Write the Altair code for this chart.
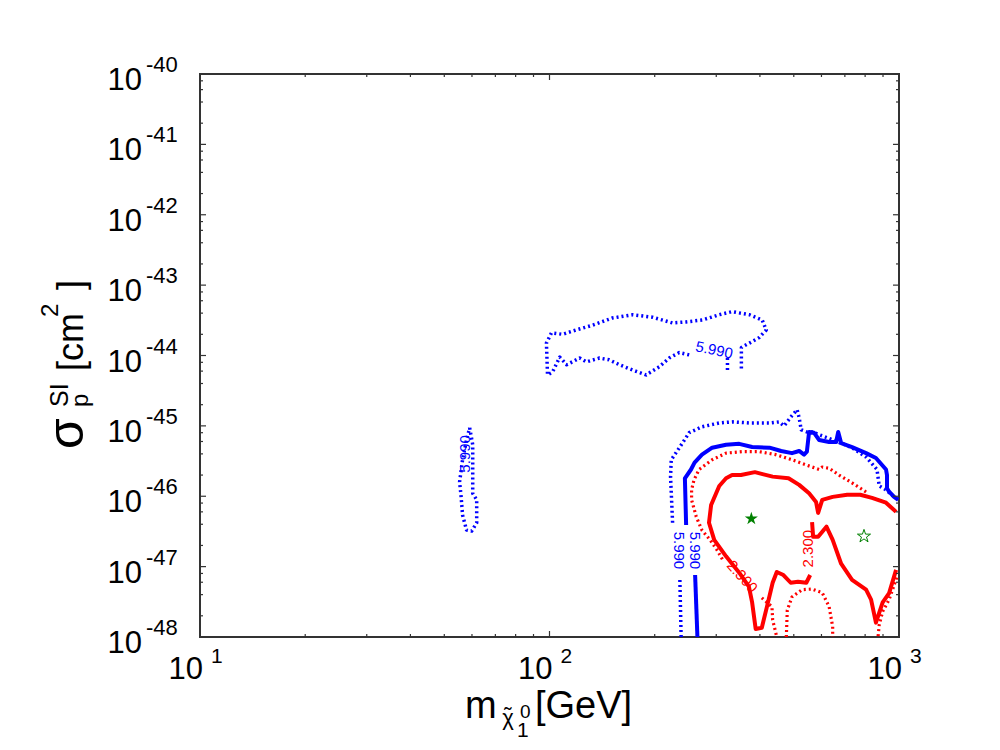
import altair as alt
import pandas as pd

FONT = "Liberation Sans"
BLUE = "#0000ff"
RED = "#ff0000"
GREEN = "#008000"
FRAME = "#333333"

# ---------------- data (mass in GeV, cross-section in cm^2) ----------------
# blue solid contour (5.990), split by its inline label
blue_solid_a_x = [265, 261]
blue_solid_a_y = [1.0e-48, 7.6e-48]
blue_solid_b_x = [246, 244, 254, 260, 273, 292, 320, 349, 380, 426, 460, 494, 518, 535, 545, 553,
                  571, 591, 631, 661, 670, 683, 734, 805, 859, 918, 924, 924, 937, 968, 995]
blue_solid_b_y = [3.9e-47, 1.8e-46, 2.4e-46, 3.0e-46, 3.9e-46, 4.9e-46, 5.4e-46, 5.55e-46, 5.0e-46,
                  4.9e-46, 4.4e-46, 4.1e-46, 4.4e-46, 3.9e-46, 4.3e-46, 8.2e-46, 8.0e-46, 6.3e-46,
                  5.9e-46, 5.9e-46, 8.2e-46, 5.7e-46, 5.0e-46, 4.1e-46, 3.5e-46, 2.4e-46, 2.0e-46,
                  1.3e-46, 1.16e-46, 9.8e-47, 8.9e-47]

# blue dotted contour (5.990), main piece
blue_dot_a_x = [238, 236]
blue_dot_a_y = [1.0e-48, 6.9e-48]
blue_dot_b_x = [225, 222, 223, 236, 251, 273, 306, 334, 374, 426, 454, 469, 494, 511, 518, 525, 545,
                564, 648, 734, 805, 865, 878, 918, 968]
blue_dot_b_y = [4.2e-47, 1.9e-46, 3.3e-46, 5.0e-46, 8.0e-46, 9.7e-46, 1.1e-45, 1.14e-45, 1.1e-45,
                1.1e-45, 1.14e-45, 1.0e-45, 1.4e-45, 1.7e-45, 1.3e-45, 8.8e-46, 8.2e-46, 8.2e-46,
                6.3e-46, 4.9e-46, 3.6e-46, 2.4e-46, 1.4e-46, 1.23e-46, 9.8e-47]

# blue dotted upper island
island_up_x = [251, 235, 220, 206, 189, 173, 158.5, 148, 139, 127.5, 122, 112, 107, 102, 98.7, 98.0,
               101.3, 109, 119, 133, 151, 173, 197, 225, 246, 274, 306, 333, 373, 406, 417, 398,
               373, 354, 354]
island_up_y = [1.02e-44, 1.1e-44, 9.2e-45, 6.9e-45, 5.3e-45, 6.2e-45, 7.4e-45, 8.7e-45, 9.2e-45,
               8.1e-45, 9.2e-45, 7.4e-45, 9.5e-45, 5.8e-45, 5.3e-45, 1.5e-44, 2.1e-44, 2.0e-44,
               2.3e-44, 2.7e-44, 3.4e-44, 3.8e-44, 3.5e-44, 2.9e-44, 3.0e-44, 3.2e-44, 3.8e-44,
               4.2e-44, 3.8e-44, 3.2e-44, 2.3e-44, 1.8e-44, 1.5e-44, 1.3e-44, 6.0e-45]
island_up2_x = [323, 323]
island_up2_y = [9.2e-45, 5.8e-45]

# blue dotted small island near 60 GeV
island_left_x = [59.1, 60.3, 60.3, 60.3, 61.9, 61.9, 59.9, 57.9, 56.4, 55.8, 55.3, 56.4, 57.9, 59.1]
island_left_y = [9.4e-46, 5.4e-46, 2.4e-46, 1.1e-46, 8.9e-47, 4.2e-47, 3.2e-47, 3.3e-47, 5.4e-47,
                 1.05e-46, 1.6e-46, 3.3e-46, 6.3e-46, 9.4e-46]

# red solid contour (2.300)
red_solid_a_x = [981, 918, 837, 775, 711, 646, 603, 587, 579, 553, 518, 483, 435, 387, 353, 333, 320,
                 306, 290, 286, 296, 320, 349, 372, 380, 389, 405, 419, 435, 447, 467, 490, 514, 543, 557]
red_solid_a_y = [6.0e-47, 8.1e-47, 9.5e-47, 1.05e-46, 1.05e-46, 9.8e-47, 8.9e-47, 5.8e-47, 8.3e-47,
                 1.1e-46, 1.45e-46, 1.8e-46, 1.9e-46, 2.2e-46, 2.0e-46, 2.0e-46, 1.8e-46, 1.4e-46,
                 7.5e-47, 4.2e-47, 2.4e-47, 1.4e-47, 8.2e-48, 5.2e-48, 3.1e-48, 1.3e-48, 1.35e-48,
                 2.7e-48, 5.9e-48, 8.4e-48, 7.6e-48, 5.9e-48, 6.1e-48, 5.9e-48, 7.6e-48]
red_solid_b_x = [564, 568, 587, 620, 646, 683, 734, 805, 832, 859, 898, 937, 981]
red_solid_b_y = [4.3e-47, 2.65e-47, 2.65e-47, 3.7e-47, 2.4e-47, 1.1e-47, 6.5e-48, 4.7e-48, 3.4e-48,
                 1.6e-48, 3.1e-48, 4.2e-48, 9.0e-48]

# red dotted contour (2.300)
red_dot_a_x = [805, 734, 674, 631, 603, 591, 541, 494, 444, 398, 355, 320, 292, 268, 259, 255, 255,
               263, 273, 288, 302, 313]
red_dot_a_y = [1.15e-46, 1.55e-46, 2.0e-46, 2.5e-46, 2.6e-46, 2.4e-46, 2.8e-46, 3.3e-46, 3.9e-46,
               4.3e-46, 4.3e-46, 4.1e-46, 3.3e-46, 2.4e-46, 1.7e-46, 1.23e-46, 8.9e-47, 5.1e-47,
               3.3e-47, 2.4e-47, 1.7e-47, 1.25e-47]
red_dot_b_x = [405, 433, 435, 447]
red_dot_b_y = [3.6e-48, 2.7e-48, 1.75e-48, 1.0e-48]
red_dot_c_x = [476, 479, 494, 528, 564, 603, 631, 646, 646]
red_dot_c_y = [1.0e-48, 2.4e-48, 3.7e-48, 4.7e-48, 4.8e-48, 4.25e-48, 2.7e-48, 1.4e-48, 1.0e-48]
red_dot_d_x = [985, 937, 898, 878, 871]
red_dot_d_y = [7.0e-48, 3.4e-48, 2.3e-48, 1.5e-48, 1.0e-48]

# inline contour labels
label_text = ["5.990", "5.990", "5.990", "5.990", "2.300", "2.300"]
label_x = [235, 260, 296, 57.2, 550, 356]
label_y = [1.7e-47, 1.7e-47, 1.2e-44, 4.0e-46, 1.8e-47, 7.2e-48]
label_angle = [90, 90, 12, 270, 270, 48]
label_color = [BLUE, BLUE, BLUE, BLUE, RED, RED]

# benchmark points (stars)
star_filled_x = [378]
star_filled_y = [4.8e-47]
star_open_x = [794]
star_open_y = [2.7e-47]

# axis ticks and labels
x_major = [10, 100, 1000]
x_exp_labels = ["1", "2", "3"]
x_minor = [20, 30, 40, 50, 60, 70, 80, 90, 200, 300, 400, 500, 600, 700, 800, 900]
y_major = [1e-40, 1e-41, 1e-42, 1e-43, 1e-44, 1e-45, 1e-46, 1e-47, 1e-48]
y_exp_labels = ["-40", "-41", "-42", "-43", "-44", "-45", "-46", "-47", "-48"]
y_minor = [m * d for d in [1e-48, 1e-47, 1e-46, 1e-45, 1e-44, 1e-43, 1e-42, 1e-41] for m in (2, 4, 6, 8)]

# ---------------- chart ----------------
W, H = 699, 563
xs = alt.Scale(type="log", domain=[10, 1000], nice=False)
ys = alt.Scale(type="log", domain=[1e-48, 1e-40], nice=False)
X = lambda f="x": alt.X(f"{f}:Q", scale=xs, axis=None)
Y = lambda f="y": alt.Y(f"{f}:Q", scale=ys, axis=None)

STAR = ("M 0 -1 L 0.2245 -0.309 L 0.951 -0.309 L 0.3633 0.118 L 0.5878 0.809 "
        "L 0 0.382 L -0.5878 0.809 L -0.3633 0.118 L -0.951 -0.309 L -0.2245 -0.309 Z")


def segs(*pairs):
    rows = []
    for s, (px, py) in enumerate(pairs):
        for i, (a, b) in enumerate(zip(px, py)):
            rows.append({"seg": str(s), "i": float(i), "x": float(a), "y": float(b)})
    return pd.DataFrame(rows)


def lines(df, color, dotted, width):
    kw = dict(strokeWidth=width, clip=True, strokeJoin="round")
    if dotted:
        kw["strokeDash"] = [2, 3]
        kw["strokeCap"] = "butt"
    return alt.Chart(df).mark_line(**kw).encode(
        x=X(), y=Y(), detail="seg:N", order="i:Q", color=alt.value(color))


blue_dot = lines(segs((blue_dot_a_x, blue_dot_a_y), (blue_dot_b_x, blue_dot_b_y),
                      (island_up_x, island_up_y), (island_up2_x, island_up2_y),
                      (island_left_x, island_left_y)), BLUE, True, 3.5)
red_dot = lines(segs((red_dot_a_x, red_dot_a_y), (red_dot_b_x, red_dot_b_y),
                     (red_dot_c_x, red_dot_c_y), (red_dot_d_x, red_dot_d_y)), RED, True, 3.2)
blue_sol = lines(segs((blue_solid_a_x, blue_solid_a_y), (blue_solid_b_x, blue_solid_b_y)), BLUE, False, 4)
red_sol = lines(segs((red_solid_a_x, red_solid_a_y), (red_solid_b_x, red_solid_b_y)), RED, False, 4)

lab_df = pd.DataFrame({"t": label_text, "x": label_x, "y": label_y, "a": label_angle, "c": label_color})
labels = alt.Chart(lab_df).mark_text(font=FONT, fontSize=15, baseline="middle", align="center").encode(
    x=X(), y=Y(), text="t:N", angle=alt.Angle("a:Q", scale=None), color=alt.Color("c:N", scale=None))

star1 = alt.Chart(pd.DataFrame({"x": star_filled_x, "y": star_filled_y})).mark_point(
    shape=STAR, filled=True, size=190, opacity=1, color=GREEN).encode(x=X(), y=Y())
star2 = alt.Chart(pd.DataFrame({"x": star_open_x, "y": star_open_y})).mark_point(
    shape=STAR, filled=False, size=190, strokeWidth=1, opacity=1, color=GREEN).encode(x=X(), y=Y())


def xticks(vals, ln):
    d = pd.DataFrame({"x": [float(v) for v in vals]})
    b = alt.Chart(d).mark_rule(strokeWidth=1.2, color=FRAME).encode(
        x=X(), y=alt.value(H), y2=alt.value(H - ln))
    t = alt.Chart(d).mark_rule(strokeWidth=1.2, color=FRAME).encode(
        x=X(), y=alt.value(0), y2=alt.value(ln))
    return [b, t]


def yticks(vals, ln):
    d = pd.DataFrame({"y": [float(v) for v in vals]})
    l = alt.Chart(d).mark_rule(strokeWidth=1.2, color=FRAME).encode(
        y=Y(), x=alt.value(0), x2=alt.value(ln))
    r = alt.Chart(d).mark_rule(strokeWidth=1.2, color=FRAME).encode(
        y=Y(), x=alt.value(W - ln), x2=alt.value(W))
    return [l, r]


ticks = xticks(x_major, 6) + xticks(x_minor, 3) + yticks(y_major, 6) + yticks(y_minor, 3)

ylab = pd.DataFrame({"y": y_major, "e": y_exp_labels, "b": ["10"] * len(y_major)})
ybase = alt.Chart(ylab).mark_text(font=FONT, fontSize=31, align="right", baseline="alphabetic", dy=16,
                                  color="black").encode(x=alt.value(-58), y=Y(), text="b:N")
yexp = alt.Chart(ylab).mark_text(font=FONT, fontSize=22, align="left", baseline="alphabetic", dy=-2,
                                 color="black").encode(x=alt.value(-54), y=Y(), text="e:N")
xlab = pd.DataFrame({"x": [float(v) for v in x_major], "e": x_exp_labels, "b": ["10"] * 3})
xbase = alt.Chart(xlab).mark_text(font=FONT, fontSize=31, align="right", baseline="alphabetic", dx=3,
                                  color="black").encode(x=X(), y=alt.value(H + 42), text="b:N")
xexp = alt.Chart(xlab).mark_text(font=FONT, fontSize=21, align="left", baseline="alphabetic", dx=11,
                                 color="black").encode(x=X(), y=alt.value(H + 26), text="e:N")

# title pieces
title_parts = ["m", "χ", "˜", "1", "0", "[GeV]", "σ", "p", "SI", "[cm", "2", "]"]
one = pd.DataFrame({"k": [0]})


def txt(s, x, y, size, angle=0, align="left"):
    return alt.Chart(one).mark_text(font=FONT, fontSize=size, angle=angle, align=align,
                                    baseline="alphabetic", color="black").encode(
        x=alt.value(x), y=alt.value(y), text=alt.value(s))


titles = [
    txt(title_parts[0], 265, 644, 38),
    txt(title_parts[1], 308, 651, 22, align="center"),
    txt(title_parts[2], 308, 649, 22, align="center"),
    txt(title_parts[3], 317, 663, 21),
    txt(title_parts[4], 320, 644, 19),
    txt(title_parts[5], 335, 644, 38),
    txt(title_parts[6], -117, 375, 50, angle=270),
    txt(title_parts[7], -112, 333, 24, angle=270),
    txt(title_parts[8], -132, 333, 25, angle=270),
    txt(title_parts[9], -117, 297, 36, angle=270),
    txt(title_parts[10], -142, 243, 24, angle=270),
    txt(title_parts[11], -117, 216, 36, angle=270),
]

chart = alt.layer(
    blue_dot, red_dot, blue_sol, red_sol, labels, star1, star2,
    *ticks, ybase, yexp, xbase, xexp, *titles
).properties(
    width=W, height=H,
    padding={"left": 192, "top": 66, "right": 85, "bottom": 110},
    autosize=alt.AutoSizeParams(type="none"),
).configure_view(stroke=FRAME, strokeWidth=2)

chart.save("out.html", embed_options={"renderer": "svg", "actions": False})
